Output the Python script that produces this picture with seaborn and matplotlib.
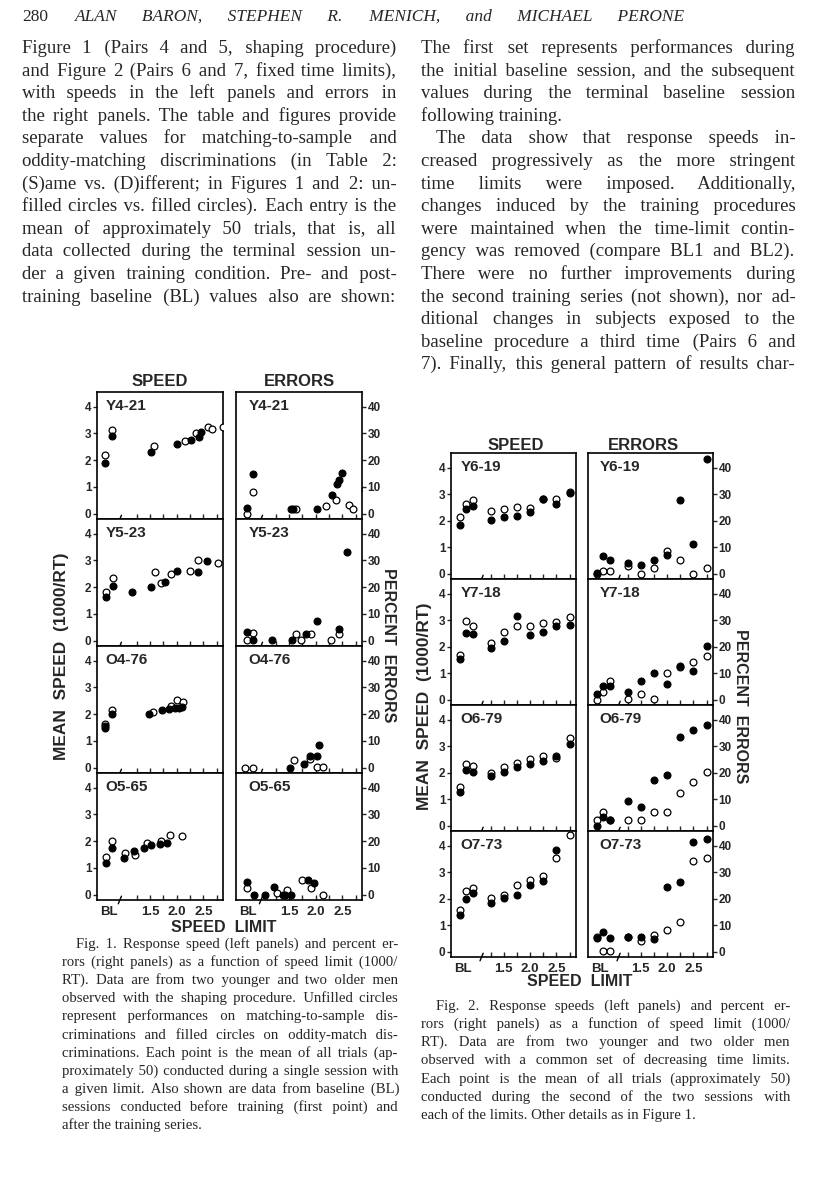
import pandas as pd
import seaborn as sns
from matplotlib import pyplot as plt
from matplotlib.transforms import blended_transform_factory

W, H = 816, 1200

# ---- values ----
LIMITS = [1.25, 1.5, 1.75, 2.0, 2.25, 2.5, 2.75]
BASE2 = [0.67, 0.79, 0.92]  # three baseline sessions in Fig. 2
X_LABELS = ["BL", "1.5", "2.0", "2.5"]
X_LABEL_POS = [0.72, 1.5, 2.0, 2.5]
SPEED_TICKS = [0, 1, 2, 3, 4]
ERROR_TICKS = [0, 10, 20, 30, 40]

FIG1_SUBJECTS = ["Y4-21", "Y5-23", "O4-76", "O5-65"]
FIG2_SUBJECTS = ["Y6-19", "Y7-18", "O6-79", "O7-73"]

# Fig. 1 (shaping): (speed limit, value) pairs
y421_speed_open = [(0.65, 2.21), (0.78, 3.12), (1.58, 2.54), (2.15, 2.71), (2.36, 3.02),
                   (2.59, 3.25), (2.66, 3.15), (2.87, 3.25)]
y421_speed_filled = [(0.65, 1.88), (0.78, 2.91), (1.51, 2.31), (2.00, 2.59), (2.26, 2.75),
                     (2.42, 2.88), (2.45, 3.04)]
y421_err_open = [(0.70, 0.0), (0.82, 8.1), (1.62, 1.9), (2.19, 3.0), (2.38, 5.1),
                 (2.63, 3.1), (2.70, 1.9), (2.93, 9.4)]
y421_err_filled = [(0.70, 2.2), (0.82, 15.0), (1.54, 1.9), (1.58, 1.9), (2.02, 1.9),
                   (2.30, 7.1), (2.40, 11.0), (2.44, 12.5), (2.49, 15.2)]

y523_speed_open = [(0.67, 1.83), (0.80, 2.33), (1.59, 2.58), (1.70, 2.17), (1.90, 2.48),
                   (2.25, 2.60), (2.40, 3.00), (2.77, 2.91)]
y523_speed_filled = [(0.67, 1.65), (0.80, 2.04), (1.15, 1.83), (1.52, 2.02), (1.77, 2.20),
                     (2.00, 2.60), (2.40, 2.58), (2.56, 2.97)]
y523_err_open = [(0.70, 0.2), (0.82, 2.7), (1.62, 2.6), (1.73, 0.3), (1.92, 2.6),
                 (2.28, 0.3), (2.43, 2.5), (2.98, 11.3)]
y523_err_filled = [(0.70, 3.2), (0.82, 0.3), (1.18, 0.3), (1.56, 0.3), (1.81, 2.5),
                   (2.02, 7.4), (2.43, 4.5), (2.59, 33.2)]

o476_speed_open = [(0.65, 1.64), (0.78, 2.17), (1.56, 2.10), (1.89, 2.30), (2.00, 2.52),
                   (2.11, 2.44)]
o476_speed_filled = [(0.65, 1.56), (0.65, 1.47), (0.78, 1.99), (1.47, 2.02), (1.73, 2.14),
                     (1.85, 2.18), (1.96, 2.23), (2.04, 2.23), (2.09, 2.25)]
o476_err_open = [(0.67, 0.0), (0.82, 0.0), (1.60, 3.0), (1.90, 3.2), (2.02, 0.3), (2.13, 0.3)]
o476_err_filled = [(1.52, 0.0), (1.77, 1.2), (1.90, 4.5), (2.02, 4.2), (2.06, 8.3)]

o565_speed_open = [(0.67, 1.40), (0.79, 2.02), (1.02, 1.55), (1.22, 1.49), (1.44, 1.95),
                   (1.71, 2.02), (1.87, 2.24), (2.09, 2.21)]
o565_speed_filled = [(0.67, 1.18), (0.79, 1.74), (1.00, 1.37), (1.19, 1.64), (1.38, 1.74),
                     (1.51, 1.84), (1.68, 1.90), (1.81, 1.93)]
o565_err_open = [(0.70, 2.4), (1.27, 0.5), (1.46, 1.9), (1.75, 5.3), (1.91, 2.4), (2.13, 0.0)]
o565_err_filled = [(0.70, 4.6), (0.83, 0.0), (1.04, 0.0), (1.21, 3.0), (1.39, 0.0),
                   (1.43, 0.0), (1.53, 0.0), (1.85, 5.3), (1.97, 4.3)]

# Fig. 2 (fixed limits): values at BL1, BL2, BL3, then each limit
y619_speed_open = [2.13, 2.63, 2.78, 2.37, 2.43, 2.53, 2.47, 2.82, 2.81, 3.08]
y619_speed_filled = [1.82, 2.43, 2.56, 2.03, 2.15, 2.18, 2.32, 2.80, 2.61, 3.06]
y619_err_open = [0.0, 1.0, 1.0, 2.9, 0.0, 2.3, 8.4, 5.2, 0.0, 2.3]
y619_err_filled = [0.3, 6.5, 5.2, 4.2, 3.2, 5.2, 7.1, 27.8, 11.1, 43.2]

y718_speed_open = [1.70, 2.95, 2.79, 2.12, 2.54, 2.78, 2.76, 2.91, 2.92, 3.10]
y718_speed_filled = [1.55, 2.50, 2.48, 1.93, 2.23, 3.14, 2.44, 2.57, 2.76, 2.82]
y718_err_open = [0.0, 3.0, 7.2, 0.3, 2.3, 0.3, 10.2, 12.4, 14.2, 16.3]
y718_err_filled = [2.0, 5.0, 5.3, 3.0, 7.1, 10.2, 6.0, 12.6, 11.0, 20.2]

o679_speed_open = [1.47, 2.33, 2.26, 1.97, 2.23, 2.35, 2.50, 2.62, 2.55, 3.30]
o679_speed_filled = [1.26, 2.11, 2.01, 1.87, 2.04, 2.20, 2.33, 2.45, 2.64, 3.08]
o679_err_open = [2.3, 5.3, 2.3, 2.3, 2.3, 5.3, 5.3, 12.2, 16.4, 20.1]
o679_err_filled = [0.0, 3.1, 2.3, 9.2, 7.2, 17.2, 19.2, 33.3, 36.2, 38.0]

o773_speed_open = [1.56, 2.28, 2.40, 2.04, 2.15, 2.50, 2.69, 2.84, 3.52, 4.41]
o773_speed_filled = [1.38, 1.98, 2.21, 1.84, 2.03, 2.15, 2.50, 2.66, 3.84, None]
o773_err_open = [5.4, 0.3, 0.3, 5.4, 4.2, 6.4, 8.3, 11.3, 34.1, 35.3]
o773_err_filled = [5.2, 7.3, 5.0, 5.6, 5.7, 4.8, 24.3, 26.2, 41.3, 42.3]

# ---- page text ----
HEADER = "ALAN BARON, STEPHEN R. MENICH, and MICHAEL PERONE"
LEFT_COL = [
    "Figure 1 (Pairs 4 and 5, shaping procedure)",
    "and Figure 2 (Pairs 6 and 7, fixed time limits),",
    "with speeds in the left panels and errors in",
    "the right panels. The table and figures provide",
    "separate values for matching-to-sample and",
    "oddity-matching discriminations (in Table 2:",
    "(S)ame vs. (D)ifferent; in Figures 1 and 2: un-",
    "filled circles vs. filled circles). Each entry is the",
    "mean of approximately 50 trials, that is, all",
    "data collected during the terminal session un-",
    "der a given training condition. Pre- and post-",
    "training baseline (BL) values also are shown:",
]
RIGHT_COL = [
    "The first set represents performances during",
    "the initial baseline session, and the subsequent",
    "values during the terminal baseline session",
    "following training.",
    "The data show that response speeds in-",
    "creased progressively as the more stringent",
    "time limits were imposed. Additionally,",
    "changes induced by the training procedures",
    "were maintained when the time-limit contin-",
    "gency was removed (compare BL1 and BL2).",
    "There were no further improvements during",
    "the second training series (not shown), nor ad-",
    "ditional changes in subjects exposed to the",
    "baseline procedure a third time (Pairs 6 and",
    "7). Finally, this general pattern of results char-",
]
CAPTION1 = [
    "Fig. 1. Response speed (left panels) and percent er-",
    "rors (right panels) as a function of speed limit (1000/",
    "RT). Data are from two younger and two older men",
    "observed with the shaping procedure. Unfilled circles",
    "represent performances on matching-to-sample dis-",
    "criminations and filled circles on oddity-match dis-",
    "criminations. Each point is the mean of all trials (ap-",
    "proximately 50) conducted during a single session with",
    "a given limit. Also shown are data from baseline (BL)",
    "sessions conducted before training (first point) and",
    "after the training series.",
]
CAPTION2 = [
    "Fig. 2. Response speeds (left panels) and percent er-",
    "rors (right panels) as a function of speed limit (1000/",
    "RT). Data are from two younger and two older men",
    "observed with a common set of decreasing time limits.",
    "Each point is the mean of all trials (approximately 50)",
    "conducted during the second of the two sessions with",
    "each of the limits. Other details as in Figure 1.",
]

HAIR = "\u200a"


def frame(open_pts, filled_pts):
    rows = [(x, y, "open") for x, y in open_pts if y is not None]
    rows += [(x, y, "filled") for x, y in filled_pts if y is not None]
    return pd.DataFrame(rows, columns=["limit", "value", "kind"])


def draw_points(ax, df):
    sns.scatterplot(data=df[df["kind"] == "open"], x="limit", y="value", ax=ax,
                    color="white", edgecolor="black", linewidth=0.9, s=24,
                    zorder=3, legend=False)
    sns.scatterplot(data=df[df["kind"] == "filled"], x="limit", y="value", ax=ax,
                    color="black", edgecolor="black", linewidth=0.9, s=24,
                    zorder=4, legend=False)
    ax.set_xlabel("")
    ax.set_ylabel("")


def style_panel(ax, kind, label, bottom, brk, label_x):
    ax.set_xlim(0.5, 2.87)
    if kind == "speed":
        ax.set_ylim(-0.2, 4.55)
        ax.set_yticks(SPEED_TICKS)
    else:
        ax.set_ylim(-2.0, 45.5)
        ax.set_yticks(ERROR_TICKS)
        ax.yaxis.tick_right()
    ax.tick_params(axis="y", direction="out", length=3, width=1.0, pad=1, labelsize=8.5)
    ax.set_xticks(X_LABEL_POS)
    ax.set_xticklabels(X_LABELS if bottom else [])
    ax.set_xticks(LIMITS, minor=True)
    ax.xaxis.remove_overlapping_locs = False
    ax.tick_params(axis="x", which="major", length=0, pad=4, labelsize=9.5)
    ax.tick_params(axis="x", which="minor", direction="in", length=3.5, width=1.0)
    for lab in ax.get_xticklabels() + ax.get_yticklabels():
        lab.set_fontweight("bold")
    for sp in ax.spines.values():
        sp.set_visible(True)
        sp.set_linewidth(1.2)
        sp.set_color("black")
    trans = blended_transform_factory(ax.transData, ax.transAxes)
    ax.plot([brk - 0.03, brk + 0.03], [-0.03, 0.03], transform=trans,
            color="black", lw=1.0, clip_on=False)
    ax.text(label_x, 0.945, label, transform=ax.transAxes, ha="left", va="top",
            fontsize=11, fontweight="bold")


def add_axes(fig, x, y, w, h):
    return fig.add_axes([x / W, 1 - (y + h) / H, w / W, h / H])


def text_width(fig, s, kw):
    t = fig.text(0, 0, s, **kw)
    w = t.get_window_extent(fig.canvas.get_renderer()).width
    t.remove()
    return w


def line_text(fig, text, x0, x1, y, size, justify=True, style="normal"):
    # one text per line; justified by padding the word gaps with hair spaces
    kw = dict(fontsize=size, family=["Liberation Serif", "DejaVu Serif"],
              style=style, va="baseline", ha="left")
    t = fig.text(x0 / W, 1 - y / H, text, **kw)
    gaps = text.count(" ")
    if not justify or gaps == 0:
        return
    natural = text_width(fig, text, kw)
    hair = (text_width(fig, "a" + HAIR * 10 + "a", kw) - text_width(fig, "aa", kw)) / 10
    extra = (x1 - x0) - natural
    if extra <= 0 or hair <= 0:
        return
    per_gap = extra / hair / gaps
    words = text.split(" ")
    out, acc = words[0], 0.0
    for w in words[1:]:
        acc += per_gap
        n = int(round(acc))
        acc -= n
        out += " " + HAIR * n + w
    t.set_text(out)


def fig_text(fig, x, y, s, size, rotation=0):
    fig.text(x / W, 1 - y / H, s, fontsize=size, fontweight="bold", rotation=rotation,
             ha="center", va="center", family=["Liberation Sans", "DejaVu Sans"])


def main():
    sns.set_style("ticks")
    plt.rcParams["font.family"] = ["Liberation Sans", "DejaVu Sans"]
    fig = plt.figure(figsize=(W / 100, H / 100), dpi=100)

    # Figure 1
    fig1 = [
        (y421_speed_open, y421_speed_filled, y421_err_open, y421_err_filled),
        (y523_speed_open, y523_speed_filled, y523_err_open, y523_err_filled),
        (o476_speed_open, o476_speed_filled, o476_err_open, o476_err_filled),
        (o565_speed_open, o565_speed_filled, o565_err_open, o565_err_filled),
    ]
    for i, (name, series) in enumerate(zip(FIG1_SUBJECTS, fig1)):
        top = 392 + 127 * i
        ax_s = add_axes(fig, 97, top, 126, 127)
        ax_e = add_axes(fig, 236, top, 126, 127)
        draw_points(ax_s, frame(series[0], series[1]))
        draw_points(ax_e, frame(series[2], series[3]))
        style_panel(ax_s, "speed", name, i == 3, 0.93, 0.07)
        style_panel(ax_e, "error", name, i == 3, 0.97, 0.1)

    # Figure 2
    xs = BASE2 + LIMITS
    fig2 = [
        (y619_speed_open, y619_speed_filled, y619_err_open, y619_err_filled),
        (y718_speed_open, y718_speed_filled, y718_err_open, y718_err_filled),
        (o679_speed_open, o679_speed_filled, o679_err_open, o679_err_filled),
        (o773_speed_open, o773_speed_filled, o773_err_open, o773_err_filled),
    ]
    for i, (name, series) in enumerate(zip(FIG2_SUBJECTS, fig2)):
        top = 453 + 126 * i
        ax_s = add_axes(fig, 451, top, 125, 126)
        ax_e = add_axes(fig, 588, top, 125, 126)
        draw_points(ax_s, frame(zip(xs, series[0]), zip(xs, series[1])))
        draw_points(ax_e, frame(zip(xs, series[2]), zip(xs, series[3])))
        style_panel(ax_s, "speed", name, i == 3, 1.08, 0.075)
        style_panel(ax_e, "error", name, i == 3, 1.08, 0.09)

    # figure headings and axis titles
    fig_text(fig, 160, 381, "SPEED", 12)
    fig_text(fig, 299, 381, "ERRORS", 12)
    fig_text(fig, 516, 446, "SPEED", 12)
    fig_text(fig, 643, 446, "ERRORS", 12)
    fig_text(fig, 62, 656, "MEAN  SPEED  (1000/RT)", 12.5, rotation=90)
    fig_text(fig, 424, 706, "MEAN  SPEED  (1000/RT)", 12.5, rotation=90)
    fig_text(fig, 389, 645, "PERCENT  ERRORS", 11.5, rotation=-90)
    fig_text(fig, 740, 706, "PERCENT  ERRORS", 11.5, rotation=-90)
    fig_text(fig, 224, 927, "SPEED  LIMIT", 11.5)
    fig_text(fig, 580, 982, "SPEED  LIMIT", 11.5)

    # running head
    line_text(fig, "280", 22, 48, 21, 12.5, justify=False)
    line_text(fig, HEADER, 75, 685, 21, 12.5, style="italic")

    # body columns
    for i, s in enumerate(LEFT_COL):
        line_text(fig, s, 22, 396, 53 + 22.6 * i, 13.5)
    for i, s in enumerate(RIGHT_COL):
        x0 = 436 if i == 4 else 421
        line_text(fig, s, x0, 795, 53 + 22.6 * i, 13.5, justify=(i != 3))

    # captions
    for i, s in enumerate(CAPTION1):
        x0 = 76 if i == 0 else 62
        line_text(fig, s, x0, 398, 948 + 18.1 * i, 10.6, justify=(i != len(CAPTION1) - 1))
    for i, s in enumerate(CAPTION2):
        x0 = 436 if i == 0 else 421
        line_text(fig, s, x0, 790, 1010 + 18.1 * i, 10.6, justify=(i != len(CAPTION2) - 1))

    fig.savefig("out.png", dpi=100)


if __name__ == "__main__":
    main()
